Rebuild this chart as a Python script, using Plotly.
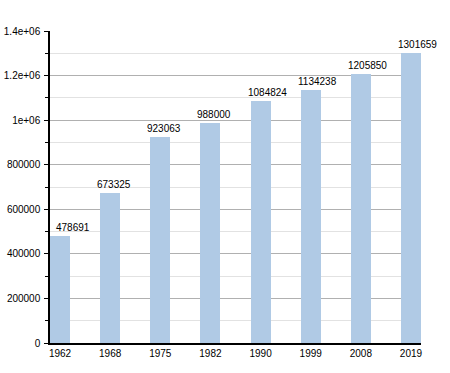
import plotly.graph_objects as go

years = ["1962", "1968", "1975", "1982", "1990", "1999", "2008", "2019"]
population = [478691, 673325, 923063, 988000, 1084824, 1134238, 1205850, 1301659]
ytick_vals = [0, 200000, 400000, 600000, 800000, 1000000, 1200000, 1400000]
ytick_text = ["0", "200000", "400000", "600000", "800000", "1e+06", "1.2e+06", "1.4e+06"]

fig = go.Figure()
fig.add_trace(go.Bar(
    x=years, y=population, width=0.4,
    marker=dict(color="#b0cae5", line=dict(width=0)),
    hoverinfo="x+y",
))
# on a category axis, annotation x is the category index
for i, v in enumerate(population):
    fig.add_annotation(
        x=i, y=v, text=str(v), showarrow=False,
        xanchor="left", yanchor="bottom",
        xshift=-6 if i == 0 else -15, yshift=1,
        font=dict(family="Liberation Sans, Arial", size=10, color="#000"),
    )
fig.update_layout(
    width=450, height=373,
    margin=dict(l=50, r=29, t=31, b=30, autoexpand=False),
    paper_bgcolor="white", plot_bgcolor="white",
    font=dict(family="Liberation Sans, Arial", size=10, color="#000"),
    showlegend=False,
    bargap=0,
)
fig.update_xaxes(
    type="category", range=[-0.2, 7.2], automargin=False,
    showline=True, linecolor="#000", linewidth=1.5,
    ticks="", showgrid=False, tickfont=dict(size=10),
)
fig.update_yaxes(
    range=[0, 1400000], automargin=False,
    tickvals=ytick_vals, ticktext=ytick_text,
    showline=True, linecolor="#000", linewidth=1.5,
    ticks="outside", ticklen=4, tickcolor="#000",
    ticklabelstandoff=2,
    showgrid=True, gridcolor="#b0b0b0", gridwidth=1,
    zeroline=False,
    minor=dict(dtick=100000, tick0=0, ticks="outside", ticklen=3, tickcolor="#000",
               showgrid=True, gridcolor="#e2e2e2", gridwidth=1),
    tickfont=dict(size=10),
)
fig.write_html("out.html", config={"displayModeBar": False},
               post_script="document.body.style.margin='0px';")
